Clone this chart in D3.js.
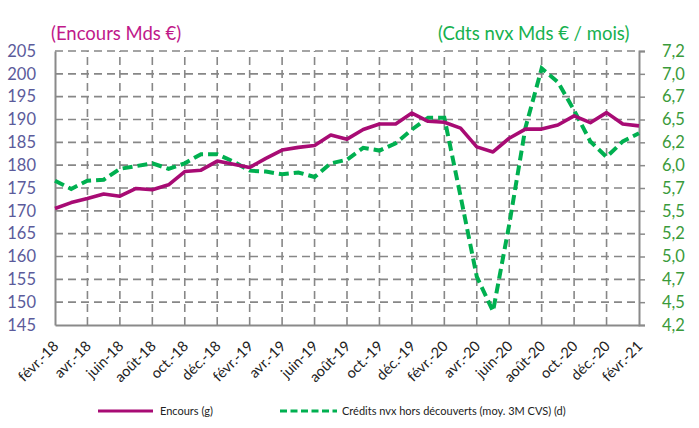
<!DOCTYPE html>
<html><head><meta charset="utf-8">
<script src="https://cdn.jsdelivr.net/npm/d3@7"></script>
<style>body{margin:0;background:#fff}svg{display:block;font-family:Lato,"Open Sans",sans-serif}</style>
</head><body><svg id="c" width="699" height="428"></svg>
<script>
const months = ["févr.-18","mars-18","avr.-18","mai-18","juin-18","juil.-18","août-18","sept.-18","oct.-18","nov.-18","déc.-18","janv.-19",
"févr.-19","mars-19","avr.-19","mai-19","juin-19","juil.-19","août-19","sept.-19","oct.-19","nov.-19","déc.-19","janv.-20",
"févr.-20","mars-20","avr.-20","mai-20","juin-20","juil.-20","août-20","sept.-20","oct.-20","nov.-20","déc.-20","janv.-21","févr.-21"];
const encours = [170.5,171.8,172.7,173.7,173.2,174.9,174.6,175.7,178.6,178.9,180.9,180.2,179.5,181.5,183.3,183.9,184.3,186.6,185.7,187.8,189.0,189.0,191.4,189.6,189.4,188.1,184.0,182.9,185.9,187.9,187.9,188.8,190.8,189.3,191.5,189.0,188.6];
const credits = [5.78,5.69,5.78,5.79,5.91,5.94,5.97,5.91,5.97,6.07,6.07,5.99,5.89,5.88,5.85,5.87,5.82,5.97,6.01,6.14,6.11,6.19,6.34,6.47,6.47,5.61,4.73,4.35,5.30,6.36,7.01,6.86,6.55,6.21,6.04,6.21,6.30];
const leftTicks = [145,150,155,160,165,170,175,180,185,190,195,200,205];
const rightTicks = [4.2,4.45,4.7,4.95,5.2,5.45,5.7,5.95,6.2,6.45,6.7,6.95,7.2];
const rightLabels = ["4,2","4,5","4,7","5,0","5,2","5,5","5,7","6,0","6,2","6,5","6,7","7,0","7,2"];
const seriesNames = ["Encours (g)","Crédits nvx hors découverts (moy. 3M CVS) (d)"];
const titles = ["(Encours Mds €)","(Cdts nvx Mds € / mois)"];

const L=55,R=639,T=51,B=325;
const svg=d3.select("#c");
const x=d3.scalePoint().domain(months).range([L,R]);
const yL=d3.scaleLinear().domain([145,205]).range([B,T]);
const yR=d3.scaleLinear().domain([4.2,7.2]).range([B,T]);
const gridC="#878787", axC="#8a8a8a";
const labelMonths = months.filter((m,i)=>i%2===0);

// grid
svg.append("g").selectAll("line").data(leftTicks.slice(1)).join("line")
 .attr("x1",L).attr("x2",R).attr("y1",d=>yL(d)).attr("y2",d=>yL(d))
 .attr("stroke",gridC).attr("stroke-width",1.6).attr("stroke-dasharray","8,5");
svg.append("g").selectAll("line").data(labelMonths.slice(1,-1)).join("line")
 .attr("x1",d=>x(d)).attr("x2",d=>x(d)).attr("y1",B).attr("y2",T)
 .attr("stroke",gridC).attr("stroke-width",1.6).attr("stroke-dasharray","8,5");

// axes
const gl=svg.append("g").attr("transform",`translate(${L},0)`)
 .call(d3.axisLeft(yL).tickValues(leftTicks).tickSize(0).tickPadding(19).tickFormat(d3.format("d")));
gl.select(".domain").attr("stroke",axC).attr("stroke-width",2);
gl.selectAll("text").attr("fill","#5b5b9b").attr("font-size",16.5).attr("font-family","Lato");

const gr=svg.append("g").attr("transform",`translate(${R},0)`)
 .call(d3.axisRight(yR).tickValues(rightTicks).tickSize(6).tickPadding(17).tickFormat((d,i)=>rightLabels[i]));
gr.select(".domain").attr("stroke",axC).attr("stroke-width",2);
gr.selectAll("line").attr("stroke",axC).attr("stroke-width",1.5);
gr.selectAll("text").attr("fill","#3a9a3a").attr("font-size",16.5).attr("font-family","Lato");

const gb=svg.append("g").attr("transform",`translate(0,${B})`)
 .call(d3.axisBottom(x).tickValues(labelMonths).tickSize(0).tickPadding(0));
gb.select(".domain").attr("stroke",axC).attr("stroke-width",2);
gb.selectAll("text").attr("fill","#222").attr("font-size",14.5).attr("font-family","Lato")
 .attr("text-anchor","end").attr("dy",0).attr("transform","translate(4,22) rotate(-45)");

// lines
svg.append("path").datum(credits)
 .attr("d",d3.line().x((d,i)=>x(months[i])).y(d=>yR(d)))
 .attr("fill","none").attr("stroke","#00b050").attr("stroke-width",4).attr("stroke-dasharray","10,5");
svg.append("path").datum(encours)
 .attr("d",d3.line().x((d,i)=>x(months[i])).y(d=>yL(d)))
 .attr("fill","none").attr("stroke","#a80b74").attr("stroke-width",3.6).attr("stroke-linejoin","round");

// titles
svg.append("text").attr("x",51).attr("y",40).text(titles[0]).attr("fill","#c0198a").attr("font-size",18.5);
svg.append("text").attr("x",438).attr("y",40).text(titles[1]).attr("fill","#16b14f").attr("font-size",18.5);

// legend
const ly=411;
svg.append("line").attr("x1",98).attr("x2",153).attr("y1",ly).attr("y2",ly).attr("stroke","#a80b74").attr("stroke-width",3);
svg.append("text").attr("x",160).attr("y",ly+4).text(seriesNames[0]).attr("font-size",11).attr("fill","#222");
svg.append("line").attr("x1",280).attr("x2",337).attr("y1",ly).attr("y2",ly).attr("stroke","#00b050").attr("stroke-width",3).attr("stroke-dasharray","7,3.5");
svg.append("text").attr("x",342).attr("y",ly+4).text(seriesNames[1]).attr("font-size",11).attr("fill","#222");
</script></body></html>
